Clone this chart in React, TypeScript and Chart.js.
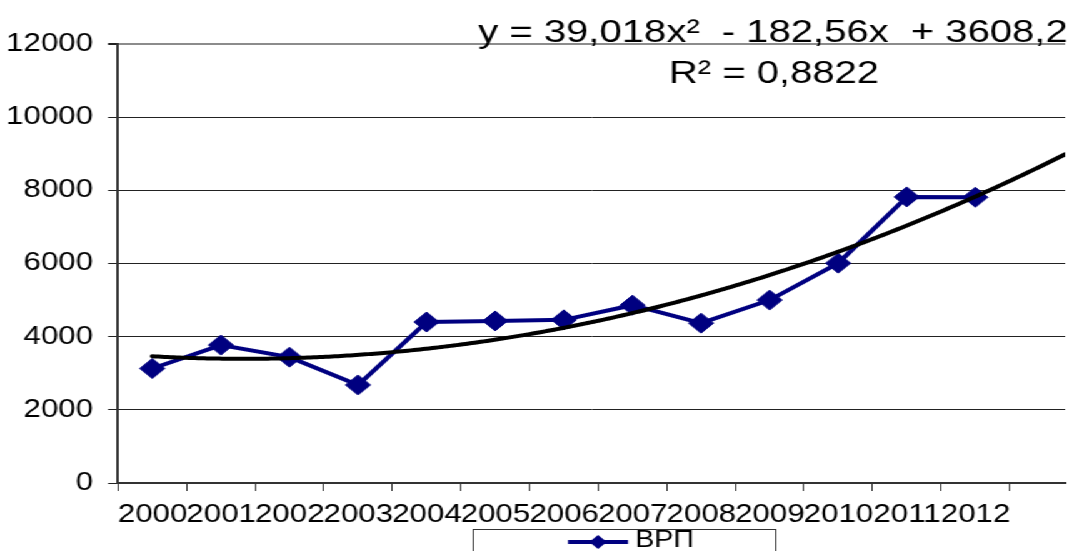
import React, { useEffect, useRef } from 'react';
import { Chart, registerables } from 'chart.js';

Chart.register(...registerables);

// ---- data ----
const years = ['2000', '2001', '2002', '2003', '2004', '2005', '2006', '2007', '2008', '2009', '2010', '2011', '2012'];
const vrp = [3130, 3770, 3440, 2680, 4400, 4430, 4460, 4860, 4370, 5000, 6010, 7820, 7810];
const yTicks = [0, 2000, 4000, 6000, 8000, 10000, 12000];
const seriesName = 'ВРП';
// Excel polynomial trendline, as printed on the chart: y = c2*x^2 + c1*x + c0
const trendCoefficients = [3608.2, -182.56, 39.018];
const trendLabel = 'y = 39,018x²  - 182,56x  + 3608,2';
const r2Label = 'R² = 0,8822';
const xAxisMax = 14.31; // trend forecast runs past the last year to the plot edge

// ---- layout (canvas is drawn narrower and stretched horizontally) ----
const VIEW_W = 1079;
const H = 551;
const W = 863;
const S = VIEW_W / W;
const FONT = '"Liberation Sans", Arial, sans-serif';
const PLOT_LEFT = 118 / S;
const PLOT_RIGHT = 1073 / S;
const CAT_W = (PLOT_RIGHT - PLOT_LEFT) / (xAxisMax - 0.5);

const overlayPlugin = {
  id: 'overlay',
  afterDatasetsDraw(chart: any) {
    const { ctx, chartArea, scales } = chart;
    const xs = scales.x;
    const ys = scales.y;
    ctx.save();
    ctx.beginPath();
    ctx.rect(chartArea.left, chartArea.top, chartArea.right - chartArea.left, chartArea.bottom - chartArea.top);
    ctx.clip();
    ctx.beginPath();
    const start = 1;
    const end = xs.max;
    const steps = 300;
    for (let i = 0; i <= steps; i++) {
      const t = start + ((end - start) * i) / steps;
      const v = trendCoefficients[0] + trendCoefficients[1] * t + trendCoefficients[2] * t * t;
      const px = xs.getPixelForValue(t);
      const py = ys.getPixelForValue(v);
      if (i === 0) ctx.moveTo(px, py);
      else ctx.lineTo(px, py);
    }
    ctx.strokeStyle = '#000000';
    ctx.lineWidth = 4;
    ctx.lineJoin = 'round';
    ctx.lineCap = 'round';
    ctx.stroke();
    ctx.restore();
  },
  afterDraw(chart: any) {
    const { ctx } = chart;
    ctx.save();
    // trendline equation
    ctx.fillStyle = '#000';
    ctx.font = `32px ${FONT}`;
    ctx.textAlign = 'center';
    ctx.textBaseline = 'alphabetic';
    ctx.fillText(trendLabel, 773 / S, 42);
    ctx.fillText(r2Label, 774 / S, 83);

    // legend box (cut off by the bottom edge as in the reference)
    const bx = 473 / S;
    const bw = (775 - 473) / S;
    ctx.strokeStyle = '#333';
    ctx.lineWidth = 1;
    ctx.strokeRect(Math.round(bx) + 0.5, 529.5, Math.round(bw), 40);
    const ly = 542;
    ctx.strokeStyle = '#000080';
    ctx.lineWidth = 4;
    ctx.beginPath();
    ctx.moveTo(568 / S, ly);
    ctx.lineTo(628 / S, ly);
    ctx.stroke();
    const dx = 598 / S;
    const r = 7;
    ctx.fillStyle = '#000080';
    ctx.beginPath();
    ctx.moveTo(dx - r, ly);
    ctx.lineTo(dx, ly - r);
    ctx.lineTo(dx + r, ly);
    ctx.lineTo(dx, ly + r);
    ctx.closePath();
    ctx.fill();
    ctx.fillStyle = '#000';
    ctx.font = `23px ${FONT}`;
    ctx.textAlign = 'left';
    ctx.fillText(seriesName, 635 / S, 547);
    ctx.restore();
  },
};

export default function App() {
  const canvasRef = useRef<HTMLCanvasElement | null>(null);

  useEffect(() => {
    document.body.style.margin = '0';
    document.body.style.overflow = 'hidden';
    const canvas = canvasRef.current;
    if (!canvas) return;
    const chart = new Chart(canvas, {
      type: 'line',
      data: {
        datasets: [
          {
            label: seriesName,
            data: vrp.map((v, i) => ({ x: i + 1, y: v })),
            borderColor: '#000080',
            backgroundColor: '#000080',
            borderWidth: 4,
            tension: 0,
            pointStyle: 'rectRot',
            pointRadius: 10,
            pointBorderWidth: 1,
            pointBackgroundColor: '#000080',
            pointBorderColor: '#000080',
            clip: false as any,
          },
        ],
      },
      options: {
        responsive: false,
        animation: false,
        devicePixelRatio: 1,
        layout: { padding: { top: 44, right: W - PLOT_RIGHT, bottom: 0, left: 0 } },
        plugins: { legend: { display: false }, tooltip: { enabled: false } },
        scales: {
          x: {
            type: 'linear',
            min: 0.5,
            max: xAxisMax,
            afterBuildTicks: (scale: any) => {
              const t = years.map((_, i) => ({ value: i + 0.5 }));
              t.push({ value: years.length + 0.5 });
              scale.ticks = t;
            },
            afterFit: (scale: any) => {
              scale.height = H - 483;
            },
            ticks: {
              autoSkip: false,
              maxRotation: 0,
              minRotation: 0,
              labelOffset: CAT_W / 2,
              padding: 9,
              color: '#000',
              font: { family: FONT, size: 25 },
              callback: (_v: any, index: number) => (index < years.length ? years[index] : ''),
            },
            grid: { drawOnChartArea: false, drawTicks: true, tickLength: 8, color: '#333', lineWidth: 1 },
            border: { color: '#333', width: 2 },
          },
          y: {
            min: 0,
            max: 12000,
            afterBuildTicks: (scale: any) => {
              scale.ticks = yTicks.map((v) => ({ value: v }));
            },
            afterFit: (scale: any) => {
              scale.width = PLOT_LEFT;
            },
            ticks: {
              padding: 12,
              color: '#000',
              font: { family: FONT, size: 25 },
              callback: (v: any) => String(v),
            },
            grid: {
              color: (c: any) => (c.tick && c.tick.value === 12000 ? '#8c8c8c' : '#222'),
              lineWidth: (c: any) => (c.tick && c.tick.value === 12000 ? 2 : 1),
              tickColor: '#222',
              drawTicks: true,
              tickLength: 8,
            },
            border: { color: '#333', width: 2 },
          },
        },
      },
      plugins: [overlayPlugin],
    });
    return () => chart.destroy();
  }, []);

  return (
    <div
      style={{
        position: 'fixed',
        left: 0,
        top: 0,
        width: W,
        height: H,
        transform: `scaleX(${S})`,
        transformOrigin: '0 0',
        background: '#fff',
      }}
    >
      <canvas ref={canvasRef} width={W} height={H} style={{ width: W, height: H, display: 'block' }} />
    </div>
  );
}
